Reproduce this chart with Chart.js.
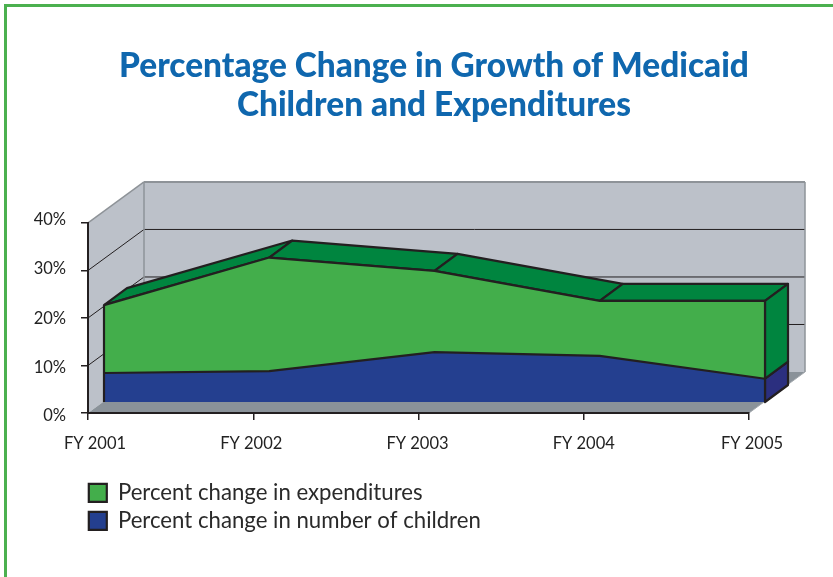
<!DOCTYPE html>
<html>
<head>
<meta charset="utf-8">
<script src="https://cdn.jsdelivr.net/npm/chart.js@4"></script>
<style>
html,body{margin:0;padding:0;background:#fff;overflow:hidden}
#frame{position:absolute;left:4px;top:4px;width:840px;height:600px;border-left:3px solid #4bb04f;border-top:3px solid #4bb04f}
#wrap{position:absolute;left:0;top:0;width:833px;height:577px}
</style>
</head>
<body>
<div id="frame"></div>
<div id="wrap"><canvas id="c" width="833" height="577"></canvas></div>
<script>
const categories = ['FY 2001','FY 2002','FY 2003','FY 2004','FY 2005'];
const expenditures = [20.4,30.4,27.6,21.3,21.3];
const children = [6.1,6.5,10.5,9.7,4.9];
const titleLines = ['Percentage Change in Growth of Medicaid','Children and Expenditures'];
const seriesNames = ['Percent change in expenditures','Percent change in number of children'];

const FONT='Lato', INK='#231f20', GREEN='#43ae4b', GREEN_D='#00853f', BLUE='#243f8f', BLUE_D='#2b2f7f',
      WALL='#bcc1c9', FLOOR='#8a9299', EDGE='#8e9398';
const WALL_D={x:56,y:-41}, FRONT_D={x:16,y:-11}, SERIES_D={x:23,y:-17};

function poly(ctx,pts,fill,stroke,w){
  ctx.beginPath();
  pts.forEach((p,i)=>i?ctx.lineTo(p[0],p[1]):ctx.moveTo(p[0],p[1]));
  ctx.closePath();
  if(fill){ctx.fillStyle=fill;ctx.fill();}
  if(stroke){ctx.strokeStyle=stroke;ctx.lineWidth=w;ctx.lineJoin='round';ctx.stroke();}
}
function seg(ctx,a,b,c,w){ctx.beginPath();ctx.moveTo(a[0],a[1]);ctx.lineTo(b[0],b[1]);ctx.strokeStyle=c;ctx.lineWidth=w;ctx.stroke();}

const threeD={
  id:'threeD',
  afterLayout(chart){
    const t=chart.titleBlock; t.left=35; t.right=833;
    const l=chart.legend; l.left=83; l.right=600; l.top=476; l.bottom=545;
    const xItems=chart.scales.x.getLabelItems(chart.chartArea);
    const xNudge=[7,-2,-1,0,3];
    xItems.forEach((it,i)=>{it.options.translation[0]+=xNudge[i]||0;});
    const yItems=chart.scales.y.getLabelItems(chart.chartArea);
    const yNudge=[3,2,1,-2,-3];
    yItems.forEach((it,i)=>{it.options.translation[1]+=yNudge[i]||0;});
  },
  beforeDraw(chart){
    const {ctx,chartArea:a,scales:{y}}=chart;
    const dx=WALL_D.x, dy=WALL_D.y, l=a.left, r=a.right, b=a.bottom, t=a.top;
    ctx.save();
    poly(ctx,[[l,b],[l,t],[l+dx,t+dy],[l+dx,b+dy]],WALL);
    poly(ctx,[[l+dx,t+dy],[r+dx,t+dy],[r+dx,b+dy],[l+dx,b+dy]],WALL);
    poly(ctx,[[l,b],[r,b],[r+dx,b+dy],[l+dx,b+dy]],FLOOR);
    [10,20,30].forEach(v=>{
      const p=y.getPixelForValue(v);
      seg(ctx,[l,p],[l+dx,p+dy],INK,1);
      seg(ctx,[l+dx,p+dy],[r+dx,p+dy],INK,1);
    });
    seg(ctx,[l,t],[l+dx,t+dy],EDGE,1.5);
    seg(ctx,[l+dx,t+dy],[r+dx,t+dy],EDGE,2);
    seg(ctx,[l+dx,t+dy],[l+dx,b+dy],EDGE,1.5);
    seg(ctx,[r+dx,t+dy],[r+dx,b+dy],EDGE,1.5);
    seg(ctx,[r,b],[r+dx,b+dy],'#a4a9ae',1);
    ctx.restore();
  },
  beforeDatasetsDraw(chart){
    const {ctx,scales:{y}}=chart;
    ctx.save();
    ctx.translate(FRONT_D.x,FRONT_D.y);
    const top=chart.getDatasetMeta(0).data, low=chart.getDatasetMeta(1).data;
    const d=SERIES_D, base=y.getPixelForValue(0);
    for(let i=0;i<top.length-1;i++){
      const p=top[i], q=top[i+1];
      poly(ctx,[[p.x,p.y],[q.x,q.y],[q.x+d.x,q.y+d.y],[p.x+d.x,p.y+d.y]],GREEN_D,INK,2.2);
    }
    const e=top[top.length-1], m=low[low.length-1];
    poly(ctx,[[m.x,base],[m.x,m.y],[m.x+d.x,m.y+d.y],[m.x+d.x,base+d.y]],BLUE_D,INK,2.2);
    poly(ctx,[[e.x,e.y],[e.x+d.x,e.y+d.y],[m.x+d.x,m.y+d.y],[m.x,m.y]],GREEN_D,INK,2.2);
  },
  afterDatasetsDraw(chart){
    const {ctx,scales:{y}}=chart;
    const top=chart.getDatasetMeta(0).data, base=y.getPixelForValue(0);
    const f=top[0], e=top[top.length-1];
    seg(ctx,[f.x,f.y],[f.x,base],INK,2.2);
    seg(ctx,[e.x,e.y],[e.x,base],INK,2.2);
    ctx.restore();
  }
};

new Chart(document.getElementById('c'),{
  type:'line',
  plugins:[threeD],
  data:{
    labels:categories,
    datasets:[
      {label:seriesNames[0],data:expenditures,order:2,fill:'origin',clip:false,tension:0,pointRadius:0,
       borderColor:INK,borderWidth:2.2,backgroundColor:GREEN},
      {label:seriesNames[1],data:children,order:1,fill:'origin',clip:false,tension:0,pointRadius:0,
       borderColor:INK,borderWidth:2.2,backgroundColor:BLUE}
    ]
  },
  options:{
    responsive:false,animation:false,
    layout:{padding:{left:0,right:84,top:0,bottom:0}},
    plugins:{
      title:{display:true,text:titleLines,color:'#0f67ae',
        font:{family:FONT,weight:'900',size:33.4,lineHeight:1.167},padding:{top:47,bottom:98}},
      legend:{position:'chartArea',align:'start',
        labels:{color:'#2a2a2a',font:{family:FONT,size:22.2},boxWidth:18,boxHeight:18,padding:5.8,
          sort:(a,b)=>a.datasetIndex-b.datasetIndex}},
      tooltip:{enabled:false}
    },
    scales:{
      x:{
        grid:{drawOnChartArea:false,color:INK,tickLength:7,lineWidth:1.5},
        border:{color:INK,width:2},
        ticks:{color:'#222222',font:{family:FONT,size:16.5},padding:14,maxRotation:0,autoSkip:false},
        afterFit(s){s.height=164;s.paddingLeft=0;s.paddingRight=0;}
      },
      y:{
        min:0,max:40,
        grid:{drawOnChartArea:false,color:INK,tickLength:7,lineWidth:1.5},
        border:{color:INK,width:2},
        ticks:{stepSize:10,color:'#222222',font:{family:FONT,size:16.5},padding:15,callback:v=>v+'%'},
        afterFit(s){s.width=88;s.paddingTop=0;s.paddingBottom=0;}
      }
    }
  }
});
</script>
</body>
</html>
